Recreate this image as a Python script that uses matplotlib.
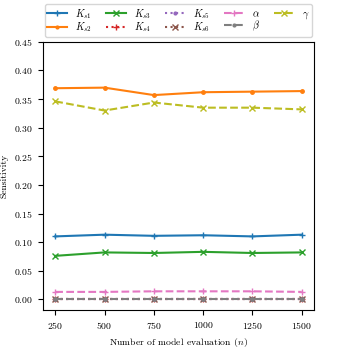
import matplotlib
matplotlib.use("Agg")
import matplotlib.pyplot as plt

plt.rcParams['font.family'] = 'serif'
plt.rcParams['font.serif'] = ['cmr10', 'DejaVu Serif']
plt.rcParams['mathtext.fontset'] = 'cm'
plt.rcParams['axes.formatter.use_mathtext'] = True
plt.rcParams['font.size'] = 7

n = [250, 500, 750, 1000, 1250, 1500]
Ks1 = [0.110, 0.113, 0.111, 0.112, 0.110, 0.113]
Ks2 = [0.369, 0.370, 0.357, 0.362, 0.363, 0.364]
Ks3 = [0.076, 0.082, 0.081, 0.083, 0.081, 0.082]
Ks4 = [0.000, 0.000, 0.000, 0.000, 0.000, 0.000]
Ks5 = [0.001, 0.001, 0.001, 0.001, 0.001, 0.001]
Ks6 = [0.000, 0.000, 0.000, 0.000, 0.000, 0.000]
alpha = [0.013, 0.013, 0.014, 0.014, 0.014, 0.013]
beta = [0.001, 0.001, 0.001, 0.001, 0.001, 0.001]
gamma = [0.346, 0.330, 0.344, 0.335, 0.335, 0.332]

series = [
    (Ks1, r'$K_{s1}$', '-', '+'),
    (Ks2, r'$K_{s2}$', '-', '.'),
    (Ks3, r'$K_{s3}$', '-', 'x'),
    (Ks4, r'$K_{s4}$', ':', '+'),
    (Ks5, r'$K_{s5}$', ':', '.'),
    (Ks6, r'$K_{s6}$', ':', 'x'),
    (alpha, r'$\alpha$', '--', '+'),
    (beta, r'$\beta$', '--', '.'),
    (gamma, r'$\gamma$', '--', 'x'),
]

fig = plt.figure(figsize=(3.49, 3.49), dpi=100)
ax = fig.add_axes([0.123, 0.112, 0.777, 0.768])
for vals, lab, ls, mk in series:
    ax.plot(n, vals, linestyle=ls, marker=mk, label=lab, linewidth=1.5, markersize=5)

ax.set_xticks(n)
ax.set_ylim(top=0.45)
ax.set_yticks([0.00, 0.05, 0.10, 0.15, 0.20, 0.25, 0.30, 0.35, 0.40, 0.45])
ax.set_xlabel(r'Number of model evaluation ($n$)')
ax.set_ylabel('Sensitivity')
ax.legend(ncol=5, loc='lower center', bbox_to_anchor=(0.5, 1.0),
          fontsize=7.2, handlelength=2.0, columnspacing=1.4, borderaxespad=0.5,
          labelspacing=0.0, borderpad=0.25, markerscale=0.8)
fig.savefig('out.png', dpi=100)
